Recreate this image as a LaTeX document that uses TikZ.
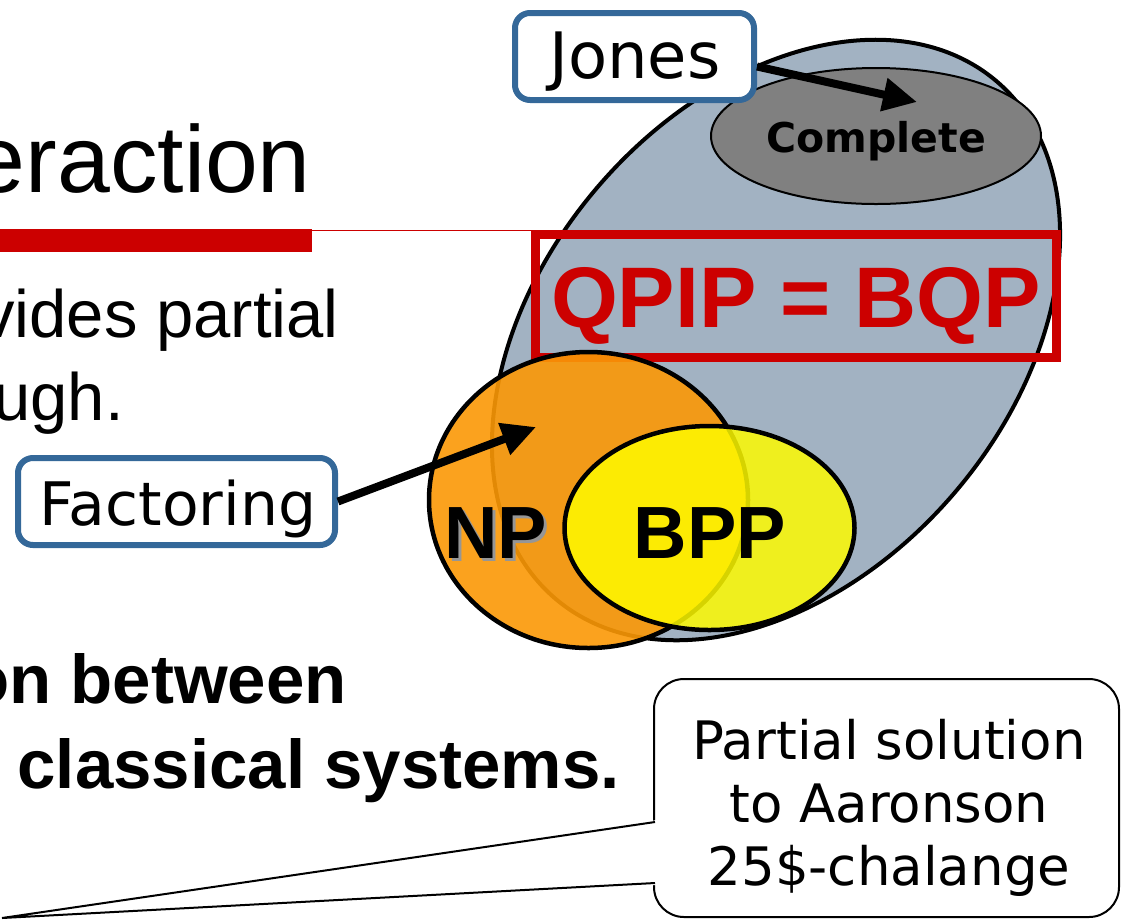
\documentclass[tikz,border=0pt]{standalone}
\usepackage{fontspec}
\setmainfont{Liberation Sans}
\newfontfamily\verdanafont{DejaVu Sans}
\newfontfamily\handfont{DejaVu Sans}
\usetikzlibrary{shapes.geometric,arrows.meta,calc}

\definecolor{qpipfill}{RGB}{162,178,194}
\definecolor{slidered}{RGB}{204,0,0}
\definecolor{boxblue}{RGB}{52,104,153}
\definecolor{npfill}{RGB}{251,152,6}
\definecolor{bppfill}{RGB}{254,251,0}
\definecolor{completefill}{RGB}{128,128,128}
\definecolor{shadowgray}{RGB}{150,150,150}

\newcommand{\fsz}[2]{\fontsize{#1}{#2}\selectfont}

\begin{document}
\begin{tikzpicture}[x=1pt,y=-1pt,
  classset/.style={ellipse, draw=black, inner sep=0pt, outer sep=0pt},
  labelbox/.style={draw=boxblue, line width=6pt, rounded corners=15pt,
    fill=white, inner sep=0pt},
  fatarrow/.style={line width=8pt, -{Triangle[length=34pt,width=32pt]}},
  slidetext/.style={inner sep=0pt, font=\fsz{67}{80}},
  slidebold/.style={inner sep=0pt, font=\fsz{69}{84}\bfseries},
  classname/.style={inner sep=0pt, font=\fsz{74}{80}\bfseries},
]
\useasboundingbox (0,0) rectangle (1121,922);
\clip (0,0) rectangle (1121,922);

% slide heading and its rule
\node[anchor=base east, inner sep=0pt, font=\fsz{95}{100}] (heading) at (311,192) {eraction};
\fill[slidered] (0,229) rectangle (312,252);
\draw[slidered, line width=1.5pt] (312,230.5) -- (534,230.5);

% slide body text
\node[slidetext, anchor=base east] (body1) at (339,337) {vides partial};
\node[slidetext, anchor=base east] (body2) at (124,420) {ugh.};
\node[slidebold, anchor=base east] (body3) at (347,703) {on between};
\node[slidebold, anchor=base east] (body4) at (620,788) {classical systems.};

% complexity classes
\node[classset, line width=4pt, fill=qpipfill, minimum width=680pt,
  minimum height=470pt, rotate=49.5] (qpip) at (776,340) {};
\node[classset, line width=2pt, fill=completefill, minimum width=330pt,
  minimum height=136pt] (complete) at (876,136) {};
\node[inner sep=0pt, anchor=base, font=\verdanafont\fsz{41}{44}\bfseries]
  (completelabel) at (876,152) {Complete};

\node[draw=slidered, line width=9pt, minimum width=521pt, minimum height=123pt,
  inner sep=0pt] (qpipbox) at (796,296) {};
\node[inner sep=0pt, anchor=base, text=slidered, font=\fsz{86}{90}\bfseries]
  (qpiplabel) at (796,327) {QPIP = BQP};

\node[classset, line width=4.5pt, fill=npfill, fill opacity=0.9,
  minimum width=319pt, minimum height=296pt] (np) at (588.5,500) {};
\node[classset, line width=4.5pt, fill=bppfill, fill opacity=0.845,
  minimum width=290pt, minimum height=204pt] (bpp) at (709.5,528) {};

\node[classname, anchor=base, text=shadowgray] (npshadow) at (498.5,561) {NP};
\node[classname, anchor=base] (nplabel) at (495.5,558) {NP};
\node[classname, anchor=base] (bpplabel) at (710,558) {BPP};

% problem labels with arrows into their classes
\node[labelbox, minimum width=239pt, minimum height=87pt] (jones) at (634.5,56.5) {};
\node[inner sep=0pt, anchor=base, font=\handfont\fsz{64}{70}] (joneslabel) at (635,78) {Jones};
\node[labelbox, minimum width=317pt, minimum height=87pt] (factoring) at (176.5,501.5) {};
\node[inner sep=0pt, anchor=base, font=\handfont\fsz{60}{66}] (factoringlabel) at (178,525) {Factoring};

\draw[fatarrow] ([yshift=-10pt]jones.east) -- ($(complete.center)+(41,-34)$);
\draw[fatarrow] (factoring.east) -- ($(np.center)+(-52.5,-73)$);

% callout
\coordinate (tip) at (2,918);
\node[draw=black, line width=2pt, rounded corners=30pt, fill=white,
  minimum width=465pt, minimum height=238pt, inner sep=0pt] (callout) at (886.5,798) {};
\fill[white] (tip) -- (657,820) -- (657,885) -- cycle;
\draw[line width=2pt, line join=miter] (655,822) -- (tip) -- (655,883);
\node[inner sep=0pt, align=center, font=\verdanafont\fsz{53}{63}] (callouttext) at (889,808)
  {Partial solution\\to Aaronson\\25\$-chalange};
\end{tikzpicture}
\end{document}
